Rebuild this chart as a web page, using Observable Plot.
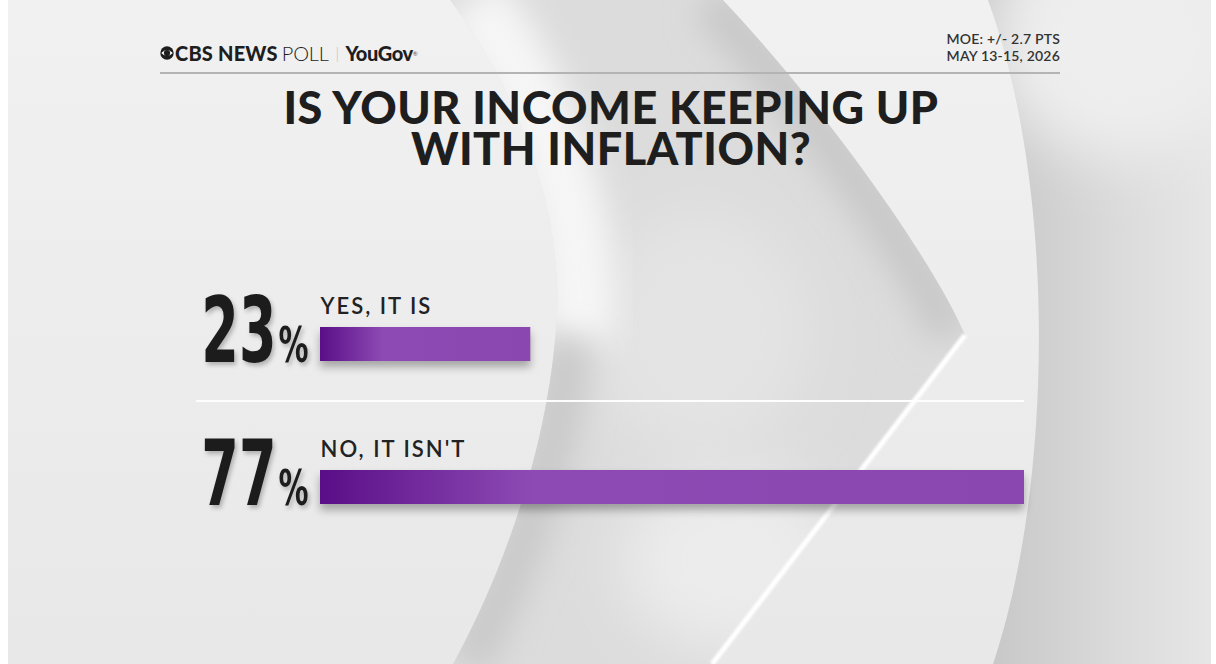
<!DOCTYPE html>
<html>
<head>
<meta charset="utf-8">
<script src="https://cdn.jsdelivr.net/npm/d3@7"></script>
<script src="https://cdn.jsdelivr.net/npm/@observablehq/plot@0.6"></script>
<style>
  body { margin: 0; background: #fff; }
  #page { position: relative; width: 1216px; height: 664px; overflow: hidden; font-family: Lato, "Open Sans", sans-serif; color: #222; }
  #bg { position: absolute; left: 0; top: 0; }
  #chart { position: absolute; left: 0; top: 0; }
  .brand { position: absolute; left: 160px; top: 41px; font-size: 20px; white-space: nowrap; display: flex; align-items: center; letter-spacing: 0.2px; color: #1e1e1e; }
  .brand b { font-weight: 900; }
  .brand .light { font-weight: 300; margin-left: 4px; letter-spacing: -0.2px; }
  .brand .bar { color: #bbb; font-weight: 300; margin: 0 6px 0 7px; font-size: 15px; }
  .brand .yg { letter-spacing: -0.4px; }
  .moe { position: absolute; right: 156px; top: 30px; text-align: right; font-size: 14px; font-weight: 600; line-height: 17px; letter-spacing: 0.2px; color: #333; }
  .hrule { position: absolute; left: 160px; top: 72px; width: 900px; height: 2px; background: #b4b4b4; }
  .title { position: absolute; left: 0; width: 1222px; text-align: center; font-size: 45px; line-height: 41px; font-weight: 900; letter-spacing: 0.5px; color: #1e1e1e; }
  .sep { position: absolute; left: 196px; top: 400px; width: 828px; height: 2px; background: rgba(255,255,255,0.95); }
</style>
</head>
<body>
<div id="page">
  <svg id="bg" width="1216" height="664">
    <defs>
      <linearGradient id="baseG" x1="0" x2="0" y1="0" y2="1">
        <stop offset="0" stop-color="#f1f1f1"/>
        <stop offset="1" stop-color="#e8e8e8"/>
      </linearGradient>
      <linearGradient id="rightG" gradientUnits="userSpaceOnUse" x1="1000" x2="1211" y1="0" y2="0">
        <stop offset="0" stop-color="#c9c9c9"/>
        <stop offset="0.6" stop-color="#dcdcdc"/>
        <stop offset="1" stop-color="#e6e6e6"/>
      </linearGradient>
      <clipPath id="midClip">
        <path d="M450 0 C525 100 568 230 555 340 C545 450 505 570 453 664 L712 664 L965 335 C935 265 835 120 723 0 Z"/>
      </clipPath>
      <clipPath id="rightClip">
        <path d="M988 0 C1055 180 1055 480 993 664 L1211 664 L1211 0 Z"/>
      </clipPath>
      <filter id="soft" x="-50%" y="-50%" width="200%" height="200%"><feGaussianBlur stdDeviation="16"/></filter>
      <filter id="soft2" x="-50%" y="-50%" width="200%" height="200%"><feGaussianBlur stdDeviation="30"/></filter>
      <filter id="thin"><feGaussianBlur stdDeviation="1.2"/></filter>
    </defs>
    <rect x="8" y="0" width="1203" height="664" fill="url(#baseG)"/>
    <g clip-path="url(#rightClip)">
      <rect x="980" y="0" width="240" height="664" fill="url(#rightG)"/>
      <ellipse cx="1120" cy="40" rx="130" ry="120" fill="#eeeeee" filter="url(#soft2)"/>
    </g>
    <g clip-path="url(#midClip)">
      <rect x="400" y="0" width="600" height="664" fill="#dcdcdc"/>
      <ellipse cx="730" cy="560" rx="110" ry="90" fill="#ececec" filter="url(#soft2)"/>
      <ellipse cx="700" cy="330" rx="110" ry="120" fill="#e4e4e4" filter="url(#soft2)"/>
      <path d="M450 0 C525 100 568 230 555 340" transform="translate(22,0)" stroke="#f6f6f6" stroke-width="70" fill="none" filter="url(#soft)"/>
      <path d="M965 335 C935 265 835 120 723 0" transform="translate(-14,0)" stroke="#c8c8c8" stroke-width="44" fill="none" filter="url(#soft)"/>
      <path d="M555 340 C545 450 505 570 453 664" transform="translate(14,0)" stroke="#c9c9c9" stroke-width="44" fill="none" filter="url(#soft)"/>
    </g>
    <path d="M965 335 L712 664" stroke="#ffffff" stroke-width="5" fill="none" filter="url(#thin)"/>
  </svg>
  <div id="chart"></div>
  <div class="brand">
    <svg width="14" height="14" viewBox="0 0 18 18" style="margin-right:1px">
      <circle cx="9" cy="9" r="8.6" fill="#1e1e1e"/>
      <path d="M1.6 9 Q9 1.2 16.4 9 Q9 16.8 1.6 9 Z" fill="#fff"/>
      <circle cx="9" cy="9" r="4" fill="#1e1e1e"/>
    </svg>
    <b>CBS NEWS</b><span class="light">POLL</span><span class="bar">|</span><b class="yg">YouGov</b><sup style="font-size:6px;color:#555">®</sup>
  </div>
  <div class="moe">MOE: +/- 2.7 PTS<br>MAY 13-15, 2026</div>
  <div class="hrule"></div>
  <div class="title" style="top:87px">IS YOUR INCOME KEEPING UP</div>
  <div class="title" style="top:128px">WITH INFLATION?</div>
  <div class="sep"></div>
</div>
<script>
// poll answers and their shares
const answers = ["YES, IT IS", "NO, IT ISN'T"]
const shares = [23, 77]

const data = answers.map((a, i) => ({answer: a, pct: shares[i]}))

const numFont = '"DejaVu Sans", sans-serif'

const chart = Plot.plot({
  width: 1216,
  height: 664,
  marginTop: 0, marginRight: 0, marginBottom: 0, marginLeft: 0,
  style: {background: "transparent", overflow: "visible"},
  x: {domain: [0, 77], range: [320, 1024], axis: null},
  y: {domain: answers, range: [218, 613], padding: 0.762, axis: null},
  marks: [
    Plot.barX(data, {x: "pct", y: "answer", fill: "url(#barGrad)"}),
    Plot.text(data, {
      x: 0, y: "answer", text: "answer",
      textAnchor: "start", lineAnchor: "bottom", dy: -31,
      fontSize: 22, fontWeight: 600, fill: "#222",
      fontFamily: "Lato, sans-serif"
    }),
    Plot.text(data, {
      x: 0, y: "answer", text: d => d.pct,
      textAnchor: "end", lineAnchor: "bottom", dx: -44, dy: 17,
      fontSize: 90, fontWeight: "bold", fill: "#1c1c1c",
      fontFamily: numFont
    }),
    Plot.text(data, {
      x: 0, y: "answer", text: () => "%",
      textAnchor: "start", lineAnchor: "bottom", dx: -42, dy: 17,
      fontSize: 50, fontWeight: "bold", fill: "#1c1c1c",
      fontFamily: numFont
    })
  ]
})

// bar gradient, shadows, condensed numbers
const svg = d3.select(chart)
const grad = svg.insert("defs", ":first-child")
  .append("linearGradient").attr("id", "barGrad")
  .attr("x1", 0).attr("x2", 1).attr("y1", 0).attr("y2", 0)
grad.append("stop").attr("offset", 0).attr("stop-color", "#5a0e87")
grad.append("stop").attr("offset", 0.3).attr("stop-color", "#8d4ab4")
grad.append("stop").attr("offset", 1).attr("stop-color", "#8a47b0")

svg.select('g[aria-label="bar"]').style("filter", "drop-shadow(0px 6px 4px rgba(0,0,0,0.3))")

const texts = svg.selectAll('g[aria-label="text"]').nodes()
d3.select(texts[0]).style("letter-spacing", "2px")
texts.slice(1).forEach(g => {
  d3.select(g)
    .style("filter", "drop-shadow(2px 3px 2px rgba(0,0,0,0.25))")
    .selectAll("text")
    .attr("transform", function() { return (this.getAttribute("transform") || "") + " scale(0.6,1)" })
})

d3.select('#chart').append(() => chart)
</script>
</body>
</html>
